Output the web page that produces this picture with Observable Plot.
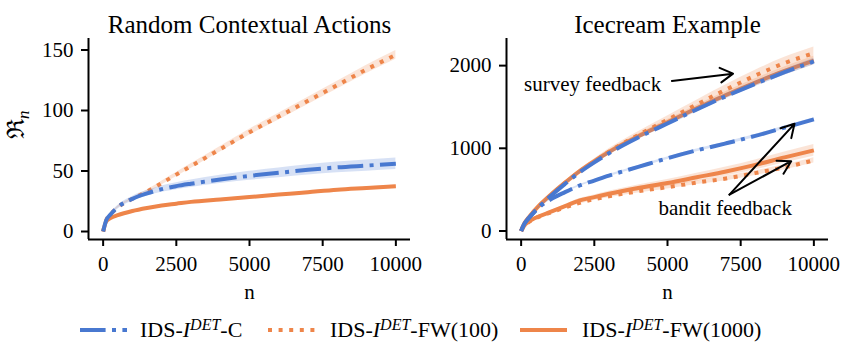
<!DOCTYPE html>
<html><head><meta charset="utf-8">
<script src="https://cdn.jsdelivr.net/npm/d3@7"></script>
<script src="https://cdn.jsdelivr.net/npm/@observablehq/plot@0.6"></script>
<style>
html,body{margin:0;padding:0;background:#fff;}
#wrap{width:846px;height:344px;position:relative;overflow:hidden;font-family:"Liberation Serif","Times New Roman",serif;color:#000;}
#wrap svg text{font-family:"Liberation Serif","Times New Roman",serif;}
#charts{display:flex;position:absolute;left:0;top:0;}
#legend{position:absolute;left:0;top:310px;width:846px;height:34px;font-size:22px;}
.item-line{position:absolute;top:0;}
.item-text{position:absolute;top:0;line-height:40px;white-space:nowrap;}
.item-text sup{font-size:16px;font-style:italic;vertical-align:7px;line-height:0;}
</style></head>
<body><div id="wrap"><div id="charts"></div><div id="legend"></div></div>
<script>
// ---------- data ----------
const nSteps = [0, 100, 250, 500, 1000, 1500, 2000, 2500, 3000, 4000, 5000, 6000, 7000, 8000, 9000, 10000];

// Random Contextual Actions
const rcaC          = [0, 9, 14, 20, 27, 31.5, 35, 37.5, 39.5, 43, 46, 48.5, 51, 53, 54.5, 56];
const rcaCBand      = [0, 0.5, 1, 1.5, 2, 2.3, 2.6, 2.9, 3.1, 3.4, 3.7, 4, 4.2, 4.4, 4.6, 4.8];
const rcaFW100      = [0, 9, 14, 20, 27, 33, 40, 47, 54, 68, 82, 95, 108, 121, 134, 146];
const rcaFW100Band  = [0, 0.3, 0.5, 0.8, 1, 1.3, 1.5, 1.7, 1.9, 2.2, 2.5, 2.8, 3, 3.2, 3.4, 3.6];
const rcaFW1000     = [0, 8, 11, 13.5, 17, 19.5, 21.5, 23, 24.5, 26.5, 28.5, 30.5, 32.5, 34.5, 36, 37.5];
const rcaFW1000Band = [0, 0.2, 0.3, 0.4, 0.5, 0.5, 0.6, 0.6, 0.7, 0.7, 0.8, 0.8, 0.9, 0.9, 1, 1];

// Icecream Example – survey feedback
const iceSurveyC          = [0, 80, 150, 250, 420, 570, 710, 830, 940, 1130, 1300, 1470, 1630, 1780, 1920, 2050];
const iceSurveyCBand      = [0, 3, 5, 8, 12, 15, 18, 20, 22, 25, 28, 30, 32, 34, 36, 38];
const iceSurveyFW100      = [0, 80, 155, 260, 430, 580, 720, 840, 960, 1160, 1345, 1530, 1710, 1880, 2030, 2150];
const iceSurveyFW100Band  = [0, 5, 8, 12, 18, 22, 26, 30, 34, 40, 46, 52, 58, 64, 70, 75];
const iceSurveyFW1000     = [0, 85, 160, 265, 435, 585, 725, 845, 955, 1145, 1315, 1485, 1645, 1795, 1935, 2060];
const iceSurveyFW1000Band = [0, 4, 6, 9, 13, 16, 19, 22, 25, 29, 33, 37, 41, 45, 49, 52];
// Icecream Example – bandit feedback
const iceBanditC          = [0, 80, 150, 250, 380, 470, 550, 610, 670, 775, 880, 975, 1060, 1150, 1250, 1350];
const iceBanditCBand      = [0, 2, 4, 6, 8, 10, 11, 12, 13, 14, 15, 16, 17, 18, 19, 20];
const iceBanditFW100      = [0, 58, 105, 155, 222, 285, 340, 385, 420, 480, 530, 585, 635, 700, 770, 855];
const iceBanditFW100Band  = [0, 3, 5, 7, 10, 12, 14, 16, 18, 20, 22, 24, 26, 28, 30, 32];
const iceBanditFW1000     = [0, 60, 110, 160, 230, 300, 370, 410, 450, 520, 580, 650, 720, 800, 890, 975];
const iceBanditFW1000Band = [0, 4, 6, 9, 14, 18, 22, 26, 30, 36, 42, 48, 54, 60, 66, 72];

const xTicks = [0, 2500, 5000, 7500, 10000];
const rcaYTicks = [0, 50, 100, 150];
const iceYTicks = [0, 1000, 2000];

const titles = ["Random Contextual Actions", "Icecream Example"];
const xLabel = "n";
const yLabel = "ℜn";

// annotations (data coordinates)
const surveyText = [{n: 102, v: 1780, label: "survey feedback"}];
const banditText = [{n: 6970, v: 269, label: "bandit feedback"}];
const arrows = [
  {n1: 5150, v1: 1815, n2: 7240, v2: 1903},
  {n1: 7117, v1: 440, n2: 9338, v2: 1296},
  {n1: 7117, v1: 440, n2: 9225, v2: 844}
];

// ---------- series styling ----------
const series = [
  {key: "C", color: "#4878d0", dash: "25.6 6.4 4 6.4"},
  {key: "FW100", color: "#ee854a", dash: "4 6.6"},
  {key: "FW1000", color: "#ee854a", dash: null}
];
const drawOrder = ["FW100", "FW1000", "C"];

function rowsFor(key, group, vals, band) {
  return nSteps.map((n, i) => ({series: key, group, n, v: vals[i], lo: vals[i] - band[i], hi: vals[i] + band[i]}));
}

const rcaRows = [
  ...rowsFor("C", "a", rcaC, rcaCBand),
  ...rowsFor("FW100", "a", rcaFW100, rcaFW100Band),
  ...rowsFor("FW1000", "a", rcaFW1000, rcaFW1000Band)
];
const iceRows = [
  ...rowsFor("C", "survey", iceSurveyC, iceSurveyCBand),
  ...rowsFor("FW100", "survey", iceSurveyFW100, iceSurveyFW100Band),
  ...rowsFor("FW1000", "survey", iceSurveyFW1000, iceSurveyFW1000Band),
  ...rowsFor("C", "bandit", iceBanditC, iceBanditCBand),
  ...rowsFor("FW100", "bandit", iceBanditFW100, iceBanditFW100Band),
  ...rowsFor("FW1000", "bandit", iceBanditFW1000, iceBanditFW1000Band)
];

const FONT = "Liberation Serif, Times New Roman, serif";
const xDomain = [-500, 10500];

function panel({rows, yDomain, yTicks, title, marginLeft, marginRight, showYLabel, extra}) {
  const marks = [];
  for (const k of drawOrder) {
    const s = series.find(d => d.key === k);
    const data = rows.filter(r => r.series === k);
    marks.push(Plot.areaY(data, {x: "n", y1: "lo", y2: "hi", z: "group", fill: s.color, fillOpacity: 0.22, curve: "monotone-x"}));
    marks.push(Plot.lineY(data, {x: "n", y: "v", z: "group", stroke: s.color, strokeWidth: 4, strokeDasharray: s.dash, strokeLinecap: "butt", curve: "monotone-x"}));
  }
  marks.push(
    Plot.ruleX([xDomain[0]], {stroke: "black", strokeWidth: 2}),
    Plot.ruleY([yDomain[0]], {stroke: "black", strokeWidth: 2}),
    Plot.axisX(xTicks, {tickSize: 7, tickPadding: 10, strokeWidth: 2, fontSize: 21, fontFamily: FONT, label: null, tickFormat: d => String(d)}),
    Plot.axisY(yTicks, {tickSize: 7, tickPadding: 8, strokeWidth: 2, fontSize: 21, fontFamily: FONT, label: null, tickFormat: d => String(d)}),
    Plot.text([title], {text: d => d, frameAnchor: "top", dy: -23, fontSize: 25, fontFamily: FONT}),
    Plot.text([xLabel], {text: d => d, frameAnchor: "bottom", dy: 59, fontSize: 21, fontFamily: FONT})
  );
  if (showYLabel) marks.push(Plot.text([yLabel], {text: d => d, frameAnchor: "left", dx: -72, rotate: -90, fontSize: 24, className: "ylab"}));
  if (extra) marks.push(...extra);
  const svg = Plot.plot({
    width: 423, height: 310,
    marginTop: 38, marginBottom: 71, marginLeft, marginRight,
    style: {fontFamily: FONT, fontSize: "21px", color: "black", background: "white", overflow: "visible"},
    x: {domain: xDomain},
    y: {domain: yDomain},
    marks
  });
  return svg;
}

const left = panel({rows: rcaRows, yDomain: [-6.6, 159.5], yTicks: rcaYTicks, title: titles[0], marginLeft: 88, marginRight: 13, showYLabel: true});
const right = panel({rows: iceRows, yDomain: [-103, 2328], yTicks: iceYTicks, title: titles[1], marginLeft: 83, marginRight: 18, showYLabel: false,
  extra: [
    Plot.text(surveyText, {x: "n", y: "v", text: "label", textAnchor: "start", fontSize: 21, fontFamily: FONT}),
    Plot.text(banditText, {x: "n", y: "v", text: "label", textAnchor: "middle", fontSize: 21, fontFamily: FONT}),
    Plot.arrow(arrows, {x1: "n1", y1: "v1", x2: "n2", y2: "v2", stroke: "black", strokeWidth: 2, headLength: 11})
  ]});

document.getElementById("charts").append(left, right);

// rich y label: fraktur R with italic subscript n
d3.select(left).selectAll("g.ylab text").each(function() {
  const t = d3.select(this);
  t.text(null);
  t.append("tspan").text("ℜ").style("font-family", "DejaVu Serif, serif").style("font-size", "24px");
  t.append("tspan").text("n").attr("dy", "0.3em").style("font-style", "italic").style("font-size", "17px");
});

// ---------- legend ----------
const legendItems = [
  {key: "C", lineLeft: 80, textLeft: 140, suffix: "-C"},
  {key: "FW100", lineLeft: 268, textLeft: 330, suffix: "-FW(100)"},
  {key: "FW1000", lineLeft: 520, textLeft: 582, suffix: "-FW(1000)"}
];
const legend = d3.select("#legend");
for (const it of legendItems) {
  const s = series.find(d => d.key === it.key);
  const sv = legend.append("svg").attr("class", "item-line").attr("width", 48).attr("height", 40).style("left", it.lineLeft + "px");
  sv.append("line").attr("x1", 0).attr("x2", 47).attr("y1", 20).attr("y2", 20)
    .attr("stroke", s.color).attr("stroke-width", 4).attr("stroke-dasharray", s.dash).attr("stroke-linecap", "butt");
  const tx = legend.append("div").attr("class", "item-text").style("left", it.textLeft + "px");
  tx.html(`IDS-<i>I</i><sup>DET</sup>${it.suffix}`);
}
</script>
</body></html>
